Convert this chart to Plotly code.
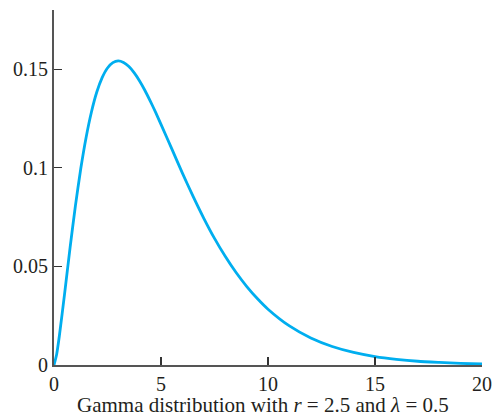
import plotly.graph_objects as go

x_vals = [0, 0.125, 0.25, 0.5, 0.75, 1, 1.25, 1.5, 1.75, 2, 2.25, 2.5, 2.75, 3, 3.25, 3.5,
          3.75, 4, 4.25, 4.5, 4.75, 5, 5.5, 6, 6.5, 7, 7.5, 8, 8.5,
          9, 9.5, 10, 11, 12, 13, 14, 15, 16, 17, 18, 19, 20]
density = [0, 0.0055, 0.0147, 0.0366, 0.0594, 0.0807, 0.0995, 0.1154, 0.1283, 0.1384,
           0.1457, 0.1506, 0.1533, 0.1542, 0.1534, 0.1513, 0.1481, 0.1440, 0.1392,
           0.1338, 0.1281, 0.1220, 0.1097, 0.0973, 0.0855, 0.0744, 0.0642, 0.0551, 0.0470,
           0.0399, 0.0337, 0.0283, 0.0198, 0.0137, 0.0094, 0.0064, 0.0043, 0.0029,
           0.0019, 0.0013, 0.0008, 0.0005]

x_ticks = [0, 5, 10, 15, 20]
x_tick_text = ["0", "5", "10", "15", "20"]
y_ticks = [0, 0.05, 0.1, 0.15]
y_tick_text = ["0", "0.05", "0.1", "0.15"]
x_title = "Gamma distribution with <i>r</i> = 2.5 and <i>λ</i> = 0.5"

FONT = "Liberation Serif, Times New Roman, serif"

fig = go.Figure()
fig.add_trace(go.Scatter(
    x=x_vals, y=density, mode="lines",
    line=dict(color="#00AEEF", width=2.8, shape="spline", smoothing=0.6),
    hoverinfo="skip", showlegend=False,
))

fig.update_layout(
    width=492, height=416,
    margin=dict(l=54, r=10, t=10, b=51, autoexpand=False),
    paper_bgcolor="white", plot_bgcolor="white",
    font=dict(family=FONT, size=20, color="#231F20"),
    showlegend=False,
)
fig.add_annotation(
    text=x_title, xref="paper", yref="paper", x=0.488, y=-0.112,
    xanchor="center", yanchor="middle", showarrow=False,
    font=dict(family=FONT, size=21, color="#231F20"),
)
fig.update_xaxes(
    range=[0, 20], tickvals=x_ticks, ticktext=x_tick_text, automargin=False,
    showgrid=False, zeroline=False, showline=True, linecolor="#555555", linewidth=2,
    ticks="inside", ticklen=8, tickwidth=1.2, tickcolor="#333333",
    tickfont=dict(family=FONT, size=20, color="#231F20"),
)
fig.update_yaxes(
    range=[0, 0.18], tickvals=y_ticks, ticktext=y_tick_text, automargin=False,
    showgrid=False, zeroline=False, showline=True, linecolor="#555555", linewidth=2,
    ticks="inside", ticklen=8, tickwidth=1.2, tickcolor="#333333",
    tickfont=dict(family=FONT, size=20, color="#231F20"),
)

fig.write_html(
    "out.html",
    config={"displayModeBar": False, "staticPlot": True},
    post_script="document.body.style.margin='0';document.body.style.overflow='hidden';",
)
